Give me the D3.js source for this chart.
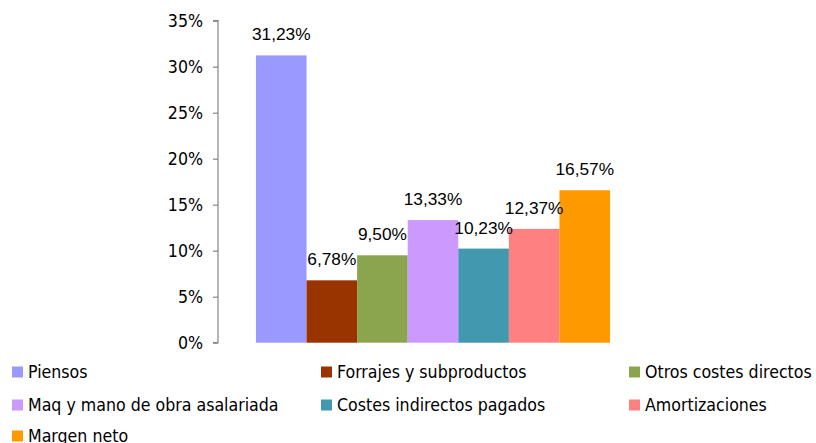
<!DOCTYPE html>
<html>
<head>
<meta charset="utf-8">
<script src="https://cdn.jsdelivr.net/npm/d3@7"></script>
<style>
  html, body { margin: 0; padding: 0; background: #fff; }
  svg { display: block; }
  .tick-label, .legend-label { font-family: "DejaVu Sans Condensed", "DejaVu Sans", sans-serif; font-stretch: condensed; font-size: 17.6px; fill: #000; }
  .value-label { font-family: "Liberation Sans", Arial, sans-serif; font-size: 17.3px; fill: #000; }
</style>
</head>
<body>
<svg id="chart" width="816" height="443"></svg>
<script>
// Cost structure shares (percent)
const categories = [
  "Piensos",
  "Forrajes y subproductos",
  "Otros costes directos",
  "Maq y mano de obra asalariada",
  "Costes indirectos pagados",
  "Amortizaciones",
  "Margen neto"
];
const values = [31.23, 6.78, 9.50, 13.33, 10.23, 12.37, 16.57];
const colors = ["#9999FF", "#993300", "#8BA54E", "#CC99FF", "#4198AF", "#FF8080", "#FF9900"];
const yTicks = [0, 5, 10, 15, 20, 25, 30, 35];

const svg = d3.select("#chart");

const plot = { left: 218, right: 648, top: 20.7, bottom: 342.7 };

const x = d3.scaleBand()
  .domain(categories)
  .range([plot.left, plot.right])
  .paddingInner(0)
  .paddingOuter(0.75);

const y = d3.scaleLinear()
  .domain([0, 35])
  .range([plot.bottom, plot.top]);

const fmt = v => v.toFixed(2).replace(".", ",") + "%";

// Value axis
const yAxis = d3.axisLeft(y)
  .tickValues(yTicks)
  .tickSize(5)
  .tickPadding(10)
  .tickFormat(d => d + "%");

const gy = svg.append("g")
  .attr("transform", `translate(${plot.left},0)`)
  .call(yAxis);
gy.select(".domain").attr("stroke", "#868686").attr("stroke-width", 1.2).attr("d", `M-5,${y(35)}H0V${y(0)}H-5`);
gy.selectAll(".tick line").attr("stroke", "#868686").attr("stroke-width", 1.2);
gy.selectAll(".tick text").attr("class", "tick-label").attr("fill", "#000").attr("font-size", null).attr("font-family", null);

// Bars
svg.append("g").selectAll("rect")
  .data(categories)
  .join("rect")
  .attr("x", d => x(d))
  .attr("width", x.bandwidth())
  .attr("y", (d, i) => y(values[i]))
  .attr("height", (d, i) => y(0) - y(values[i]))
  .attr("fill", (d, i) => colors[i]);

// Value labels above each bar
svg.append("g").selectAll("text")
  .data(categories)
  .join("text")
  .attr("class", "value-label")
  .attr("text-anchor", "middle")
  .attr("x", d => x(d) + x.bandwidth() / 2)
  .attr("y", (d, i) => y(values[i]) - 15)
  .text((d, i) => fmt(values[i]));

// Legend: three columns, filled row by row
const legendCols = [12, 321, 629];
const legendRows = [372, 405, 436];
const legend = svg.append("g").selectAll("g")
  .data(categories)
  .join("g")
  .attr("transform", (d, i) => `translate(${legendCols[i % 3]},${legendRows[Math.floor(i / 3)]})`);

legend.append("rect")
  .attr("x", 0)
  .attr("y", -5.5)
  .attr("width", 11)
  .attr("height", 11)
  .attr("fill", (d, i) => colors[i]);

legend.append("text")
  .attr("class", "legend-label")
  .attr("x", 16)
  .attr("y", 0)
  .attr("dy", "0.36em")
  .text(d => d);
</script>
</body>
</html>
